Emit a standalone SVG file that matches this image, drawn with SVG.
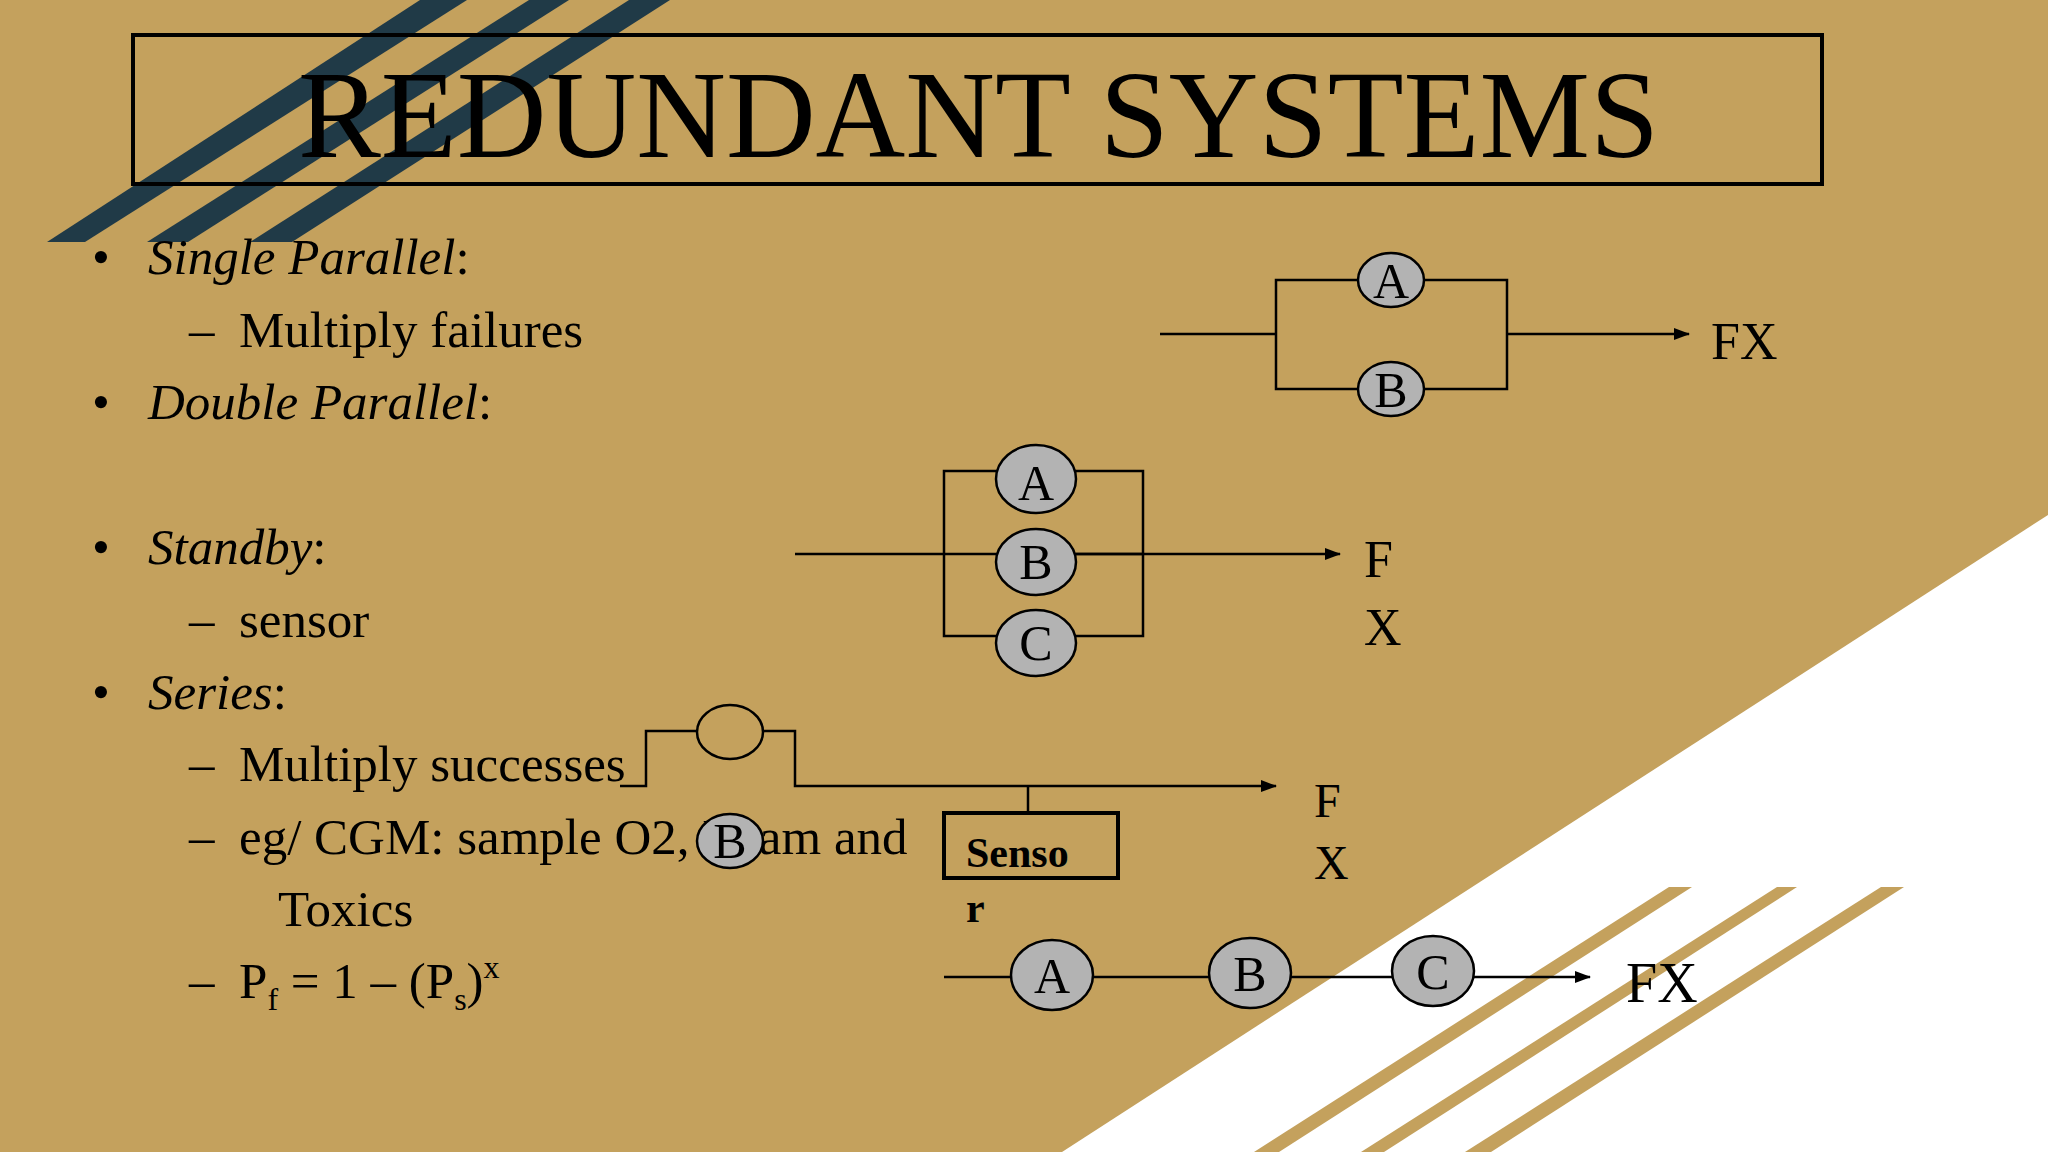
<svg xmlns="http://www.w3.org/2000/svg" width="2048" height="1152" viewBox="0 0 2048 1152">
<defs>
<style>
.t{font-family:"Liberation Serif","Times New Roman",serif;fill:#000}
.b{font-size:51px}
.i{font-style:italic}
.ln{stroke:#000;stroke-width:2.5;fill:none}
.c{fill:#b3b3b3;stroke:#000;stroke-width:2.5}
.cl{font-size:50px;text-anchor:middle}
</style>
<marker id="ar" markerWidth="16" markerHeight="12" refX="15" refY="6" orient="auto" markerUnits="userSpaceOnUse" viewBox="0 0 16 12"><path d="M0,0L16,6L0,12z" fill="#000"/></marker>
</defs>
<g id="background">
<rect width="2048" height="1152" fill="#c4a15d"/>
<polygon points="2048,515 2048,1152 1062,1152" fill="#fff"/>
<g fill="#203a47">
<polygon points="47,242 85,242 467,0 420,0"/>
<polygon points="147,242 188,242 569,0 529,0"/>
<polygon points="250,242 292,242 670,0 629,0"/>
</g>
<g fill="#c4a15d">
<polygon points="1254,1152 1279,1152 1692,887 1669,887"/>
<polygon points="1361,1152 1384,1152 1797,887 1777,887"/>
<polygon points="1465,1152 1491,1152 1904,887 1881,887"/>
</g>
</g>
<g id="title">
<rect x="133" y="35" width="1689" height="149" fill="none" stroke="#000" stroke-width="4"/>
<text class="t" x="298" y="157" font-size="124" textLength="1361" lengthAdjust="spacingAndGlyphs">REDUNDANT SYSTEMS</text>
</g>
<g id="bullets" class="t b">
<text x="92" y="274">•</text><text class="i" x="148" y="274">Single Parallel<tspan font-style="normal">:</tspan></text>
<text x="189" y="347">–</text><text x="239" y="347">Multiply failures</text>
<text x="92" y="419">•</text><text class="i" x="148" y="419">Double Parallel<tspan font-style="normal">:</tspan></text>
<text x="92" y="564">•</text><text class="i" x="148" y="564">Standby<tspan font-style="normal">:</tspan></text>
<text x="189" y="637">–</text><text x="239" y="637">sensor</text>
<text x="92" y="709">•</text><text class="i" x="148" y="709">Series<tspan font-style="normal">:</tspan></text>
<text x="189" y="781">–</text><text x="239" y="781">Multiply successes</text>
<text x="189" y="854">–</text><text x="239" y="854">eg/ CGM: sample O2, Exam and</text>
<text x="278" y="926">Toxics</text>
<text x="189" y="998">–</text><text x="239" y="998">P<tspan font-size="32" dy="12">f</tspan><tspan dy="-12"> = 1 – (P</tspan><tspan font-size="32" dy="12">s</tspan><tspan dy="-12">)</tspan><tspan font-size="32" dy="-20">x</tspan></text>
</g>
<g id="connectors">
<path class="ln" d="M1160,334H1276M1276,280H1507V389H1276Z"/>
<path class="ln" d="M1507,334H1689" marker-end="url(#ar)"/>
<path class="ln" d="M944,471H1143V636H944Z"/>
<path class="ln" d="M795,554H1340" marker-end="url(#ar)"/>
<path class="ln" d="M620,786H646V731H697M763,731H795V786H1276" marker-end="url(#ar)"/>
<path class="ln" d="M1028,786V813"/>
<path class="ln" d="M944,977H1590" stroke-width="2" marker-end="url(#ar)"/>
</g>
<g id="single-parallel" class="t">
<ellipse class="c" cx="1391" cy="280" rx="33" ry="27"/><text class="cl" x="1391" y="298">A</text>
<ellipse class="c" cx="1391" cy="389" rx="33" ry="27"/><text class="cl" x="1391" y="407">B</text>
<text x="1711" y="359" font-size="52">FX</text>
</g>
<g id="standby" class="t">
<ellipse class="c" cx="1036" cy="479" rx="40" ry="34"/><text class="cl" x="1036" y="500" font-size="60">A</text>
<ellipse class="c" cx="1036" cy="562" rx="40" ry="33"/><text class="cl" x="1036" y="579">B</text>
<ellipse class="c" cx="1036" cy="643" rx="40" ry="33"/><text class="cl" x="1036" y="660">C</text>
<path class="ln" d="M1076,554H1143"/>
<text x="1364" y="577" font-size="52">F</text>
<text x="1364" y="645" font-size="52">X</text>
</g>
<g id="sensor" class="t">
<ellipse cx="730" cy="732" rx="33" ry="27" fill="none" stroke="#000" stroke-width="2.5"/>
<ellipse class="c" cx="730" cy="841" rx="33" ry="27"/><text class="cl" x="730" y="858">B</text>
<rect x="944" y="813" width="174" height="65" fill="none" stroke="#000" stroke-width="4"/>
<text x="966" y="867" font-size="42" font-weight="bold">Senso</text>
<text x="966" y="922" font-size="42" font-weight="bold">r</text>
<text x="1314" y="817" font-size="48">F</text>
<text x="1314" y="879" font-size="48">X</text>
</g>
<g id="series" class="t">
<ellipse class="c" cx="1052" cy="975" rx="41" ry="35"/><text class="cl" x="1052" y="993">A</text>
<ellipse class="c" cx="1250" cy="973" rx="41" ry="35"/><text class="cl" x="1250" y="991">B</text>
<ellipse class="c" cx="1433" cy="971" rx="41" ry="35"/><text class="cl" x="1433" y="989">C</text>
<text x="1626" y="1002" font-size="56">FX</text>
</g>
</svg>
